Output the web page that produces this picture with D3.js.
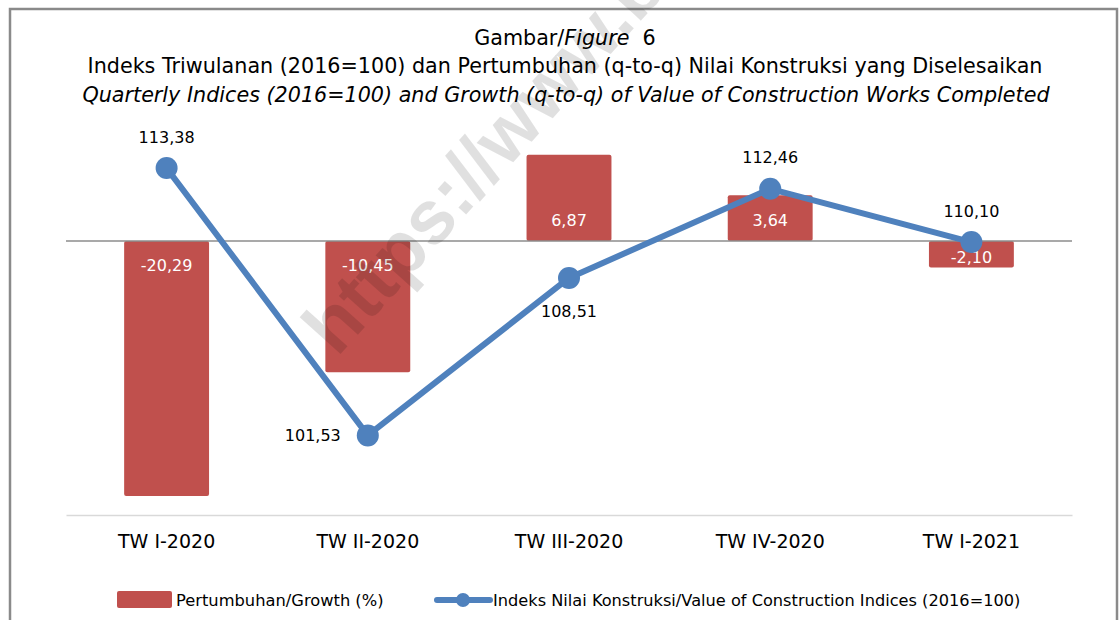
<!DOCTYPE html>
<html>
<head>
<meta charset="utf-8">
<script src="https://cdn.jsdelivr.net/npm/d3@7"></script>
<style>
    body { margin: 0; background: #ffffff; }
    svg { display: block; font-family: "DejaVu Sans", Verdana, sans-serif; }
</style>
</head>
<body>
<div id="chart"></div>
<script>

// Data
var categories = ["TW I-2020", "TW II-2020", "TW III-2020", "TW IV-2020", "TW I-2021"];
var growth = [-20.29, -10.45, 6.87, 3.64, -2.10];
var indices = [113.38, 101.53, 108.51, 112.46, 110.10];

// where each index label sits relative to its point
var indexLabelPos = ["top", "left", "bottom", "top", "top"];

// comma decimals, plain hyphen for negatives
var fmt = function(v) { return d3.format(".2f")(v).replace(".", ",").replace("\u2212", "-"); };

var width = 1120, height = 620;

var svg = d3.select("#chart").append("svg")
    .attr("width", width)
    .attr("height", height);

svg.append("rect")
    .attr("width", width)
    .attr("height", height)
    .style("fill", "white");

// Frame
svg.append("rect")
    .attr("x", 10)
    .attr("y", 9)
    .attr("width", 1107)
    .attr("height", 700)
    .style("fill", "none")
    .style("stroke", "#8a8a8a")
    .style("stroke-width", 2.5);

// Titles
var title = svg.append("text")
    .attr("x", 565)
    .attr("y", 45)
    .attr("text-anchor", "middle")
    .style("font-size", "20.7px");
title.append("tspan").text("Gambar/");
title.append("tspan").style("font-style", "italic").text("Figure");
title.append("tspan").text("  6").attr("xml:space", "preserve");

svg.append("text")
    .attr("x", 565)
    .attr("y", 73)
    .attr("text-anchor", "middle")
    .style("font-size", "20.7px")
    .text("Indeks Triwulanan (2016=100) dan Pertumbuhan (q-to-q) Nilai Konstruksi yang Diselesaikan");

svg.append("text")
    .attr("x", 566)
    .attr("y", 102)
    .attr("text-anchor", "middle")
    .style("font-size", "20.7px")
    .style("font-style", "italic")
    .text("Quarterly Indices (2016=100) and Growth (q-to-q) of Value of Construction Works Completed");

// Scales
var x = d3.scaleBand()
    .domain(categories)
    .range([66, 1072])
    .paddingInner(0.578)
    .paddingOuter(0.289);

var y = d3.scaleLinear()
    .domain([-21.8, 10.5])
    .range([515, 109]);

var y2 = d3.scaleLinear()
    .domain([98, 116])
    .range([515, 109]);

var cx = function(i) { return x(categories[i]) + x.bandwidth() / 2; };

// Category axis
var xAxis = svg.append("g")
    .attr("transform", "translate(0," + 515 + ")")
    .call(d3.axisBottom(x).tickSize(0).tickPadding(20));
xAxis.select(".domain").style("stroke", "#d9d9d9").style("stroke-width", 1.5);
xAxis.selectAll("text")
    .style("font-family", "DejaVu Sans, Verdana, sans-serif")
    .style("font-size", "19px")
    .style("fill", "#000");

// Bars
svg.selectAll(".bar")
    .data(growth)
    .enter().append("rect")
    .attr("class", "bar")
    .attr("x", function(d, i) { return x(categories[i]); })
    .attr("y", function(d) { return y(Math.max(0, d)); })
    .attr("width", x.bandwidth())
    .attr("height", function(d) { return Math.abs(y(d) - y(0)); })
    .attr("rx", 2)
    .style("fill", "#c0504d");

// Zero line
svg.append("line")
    .attr("x1", 66)
    .attr("x2", 1072)
    .attr("y1", y(0))
    .attr("y2", y(0))
    .style("stroke", "#8c8c8c")
    .style("stroke-width", 1.5);

// Bar labels (inside base)
svg.selectAll(".bar-label")
    .data(growth)
    .enter().append("text")
    .attr("class", "bar-label")
    .attr("x", function(d, i) { return cx(i); })
    .attr("y", function(d) {
        if (d < 0) return Math.min(y(0) + 24, y(d) - 10);
        return Math.max(y(0) - 21, y(d) + 10);
    })
    .attr("dy", "0.35em")
    .attr("text-anchor", "middle")
    .style("font-size", "16px")
    .style("fill", "white")
    .text(fmt);

// Index line
var line = d3.line()
    .x(function(d, i) { return cx(i); })
    .y(function(d) { return y2(d); });

svg.append("path")
    .datum(indices)
    .attr("d", line)
    .style("fill", "none")
    .style("stroke", "#4f81bd")
    .style("stroke-width", 6)
    .style("stroke-linejoin", "round");

svg.selectAll(".dot")
    .data(indices)
    .enter().append("circle")
    .attr("class", "dot")
    .attr("cx", function(d, i) { return cx(i); })
    .attr("cy", function(d) { return y2(d); })
    .attr("r", 11)
    .style("fill", "#4f81bd");

svg.selectAll(".index-label")
    .data(indices)
    .enter().append("text")
    .attr("class", "index-label")
    .attr("x", function(d, i) {
        if (indexLabelPos[i] == "left") return cx(i) - 27;
        return cx(i);
    })
    .attr("y", function(d, i) {
        if (indexLabelPos[i] == "top") return y2(d) - 31;
        if (indexLabelPos[i] == "bottom") return y2(d) + 33;
        return y2(d);
    })
    .attr("dy", "0.35em")
    .attr("text-anchor", function(d, i) { return indexLabelPos[i] == "left" ? "end" : "middle"; })
    .style("font-size", "16px")
    .style("fill", "#000")
    .text(fmt);

// Legend
svg.append("rect")
    .attr("x", 117)
    .attr("y", 591)
    .attr("width", 55)
    .attr("height", 17)
    .attr("rx", 2)
    .style("fill", "#c0504d");

svg.append("text")
    .attr("x", 176)
    .attr("y", 600)
    .attr("dy", "0.35em")
    .style("font-size", "16.3px")
    .text("Pertumbuhan/Growth (%)");

svg.append("line")
    .attr("x1", 437)
    .attr("x2", 490)
    .attr("y1", 600)
    .attr("y2", 600)
    .style("stroke", "#4f81bd")
    .style("stroke-width", 6)
    .style("stroke-linecap", "round");

svg.append("circle")
    .attr("cx", 463)
    .attr("cy", 600)
    .attr("r", 7)
    .style("fill", "#4f81bd");

svg.append("text")
    .attr("x", 493)
    .attr("y", 600)
    .attr("dy", "0.35em")
    .style("font-size", "16.2px")
    .text("Indeks Nilai Konstruksi/Value of Construction Indices (2016=100)");

// Watermark (runs off the top edge, as in the source)
svg.append("text")
    .attr("transform", "translate(337,358) rotate(-48)")
    .style("font-family", "Liberation Sans, Arial, sans-serif")
    .style("font-weight", "bold")
    .style("font-size", "76px")
    .style("fill", "#000")
    .style("fill-opacity", 0.12)
    .text("https://www.bps.go.id");

</script>
</body>
</html>
